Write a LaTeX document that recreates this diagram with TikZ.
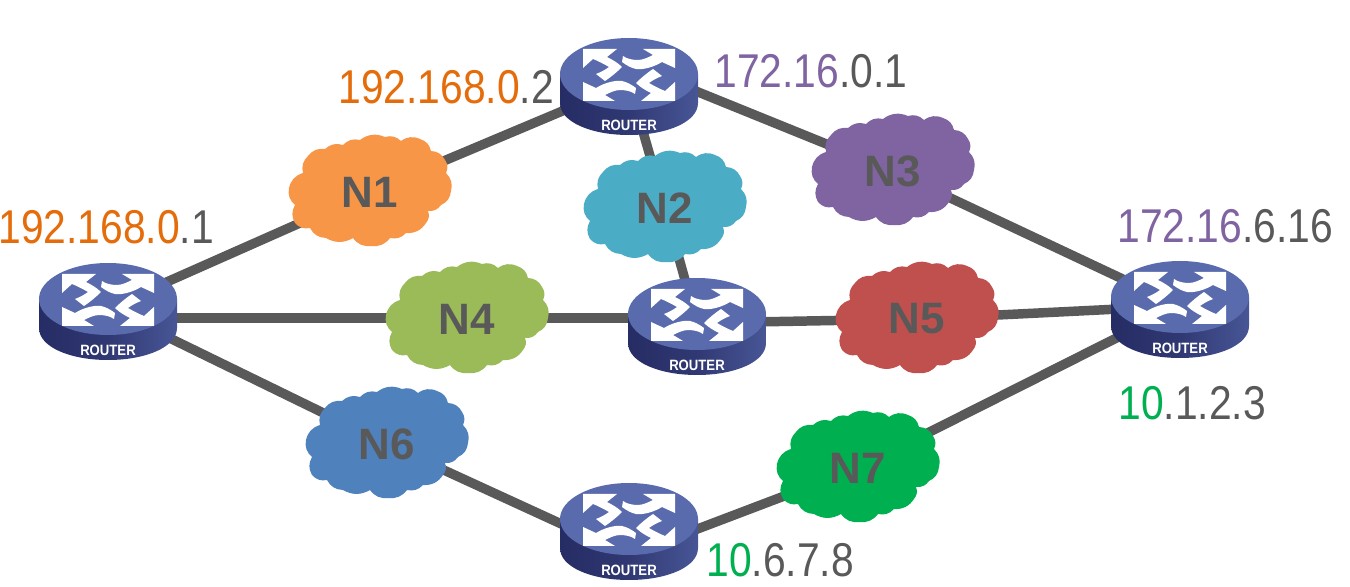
\documentclass[tikz,border=0pt]{standalone}
\usepackage{fontspec}
\setmainfont{Liberation Sans}
\newfontfamily\iplabelfont[FakeStretch=0.86]{Liberation Sans}
\newfontfamily\routerfont[FakeStretch=0.88]{Liberation Sans}
\usetikzlibrary{shapes.geometric, backgrounds}
\definecolor{linegrey}{RGB}{89,89,89}
\definecolor{iporange}{RGB}{228,108,10}
\definecolor{ippurple}{RGB}{128,100,162}
\definecolor{ipgreen}{RGB}{0,176,80}
\definecolor{routertop}{RGB}{90,107,173}
\definecolor{routerdark}{RGB}{38,44,100}
\definecolor{routermid}{RGB}{72,86,150}
\definecolor{cloudA}{RGB}{247,150,70}
\definecolor{cloudB}{RGB}{75,172,198}
\definecolor{cloudC}{RGB}{128,100,162}
\definecolor{cloudD}{RGB}{155,187,89}
\definecolor{cloudE}{RGB}{192,80,77}
\definecolor{cloudF}{RGB}{79,129,189}
\definecolor{cloudG}{RGB}{0,176,80}
\tikzset{
  netname/.style={inner sep=0pt, text=linegrey, font=\fontsize{25}{25}\selectfont\bfseries},
  routerport/.style={ellipse, minimum width=2.7cm, minimum height=1.9cm, inner sep=0pt},
  iplabel/.style={anchor=west, inner sep=0pt, text=linegrey, font=\fontsize{27}{27}\iplabelfont},
  wire/.style={color=linegrey, line width=5.4pt},
  blob/.pic={
    \path[pic actions, bend left=30] (-81,-4) to (-67,-19) to (-62,-36) to (-45,-43) to (-27,-47)
      to (-10,-52) to (15,-55) to (31,-51) to (50,-53) to (61,-41) to (75,-32) to (76,-19)
      to (81,-1) to (71,13) to (58,19) to (56,31) to (36,41) to (20,46) to (1,54) to (-17,46)
      to (-44,46) to (-60,36) to (-75,31) to (-75,13) to (-81,-4) -- cycle;
  },
  router/.pic={
    \shade[left color=routerdark, right color=routermid, middle color=routerdark!70!routermid]
      (-69,-1) -- (-69,28) .. controls (-69,47) and (-38,60) .. (0,60)
      .. controls (38,60) and (69,47) .. (69,28) -- (69,-1) -- cycle;
    \fill[routertop] (-69,-1) .. controls (-69,-21) and (-38,-37) .. (0,-37)
      .. controls (38,-37) and (69,-21) .. (69,-1) .. controls (69,19) and (38,35) .. (0,35)
      .. controls (-38,35) and (-69,19) .. (-69,-1) -- cycle;
    \foreach \rot in {0,180}{
      \begin{scope}[rotate=\rot]
        %corner arrows
        \fill[white] (-46,-26) -- (-12,-26) -- (-22,-18) .. controls (-16,-15) and (-11,-12) .. (-7,-8)
          .. controls (-12,-3) and (-18,2) .. (-24,6) -- (-33,-1) .. controls (-28,-3) and (-24,-5) .. (-20,-8)
          .. controls (-25,-11) and (-31,-14) .. (-36,-16) -- (-46,-7) -- cycle;
        \fill[white] (46,-26) -- (46,-7) -- (33,-13) .. controls (25,-8) and (14,-5) .. (7,-6)
          .. controls (2,-7) and (-3,-10) .. (-7,-13) -- (-6,-19) .. controls (-2,-16) and (4,-15) .. (9,-15)
          .. controls (14,-15) and (20,-18) .. (24,-20) -- (14,-26) -- cycle;
      \end{scope}
    }
    \node[text=white, font=\fontsize{8.5}{9}\routerfont\bfseries] (tag) at (0,50) {ROUTER};
  }
}

\begin{document}
\begin{tikzpicture}[x=0.02cm,y=-0.02cm]
\useasboundingbox (0,0) rectangle (1350,587);

%routers
\foreach \name/\x/\y in {RA/108/300, RB/629/75, RC/697/315, RD/1180/298, RE/629/520}{
  \pic (\name pic) at (\x,\y) {router};
  \node[routerport] (\name) at (\x,\y+8) {};
}
%clouds
\foreach \name/\x/\y/\col/\txt in {NA/370/192/cloudA/N1, NB/665/208/cloudB/N2, NC/893/171/cloudC/N3, ND/467/319/cloudD/N4,
    NE/917/319/cloudE/N5, NF/387/444/cloudF/N6, NG/858/468/cloudG/N7}{
  \pic[fill=\col] (\name pic) at (\x,\y) {blob};
  \node[netname] (\name) at (\x,\y) {\txt};
}

\coordinate (RAport) at (108,318);
\coordinate (RBport) at (629,64);
\coordinate (RCport) at (697,318);
\coordinate (REport) at (629,555);
\begin{pgfonlayer}{background}
  \foreach \a/\b in {RA/NA, NA/RB, RB/NB, NB/RC, RBport/NC, NC/RD, RAport/RCport, RC/NE, NE/RD, RA/NF, NF/REport, REport/NG, NG/RD}{
    \draw[wire] (\a.center) -- (\b.center);
  }
\end{pgfonlayer}

%addresses
\node[iplabel] (ipA) at (338,87) {\textcolor{iporange}{192.168.0}.2};
\node[iplabel] (ipB) at (-2,227) {\textcolor{iporange}{192.168.0}.1};
\node[iplabel] (ipC) at (714,71) {\textcolor{ippurple}{172.16}.0.1};
\node[iplabel] (ipD) at (1117,226) {\textcolor{ippurple}{172.16}.6.16};
\node[iplabel] (ipE) at (1118,403) {\textcolor{ipgreen}{10}.1.2.3};
\node[iplabel] (ipF) at (706,560) {\textcolor{ipgreen}{10}.6.7.8};
\end{tikzpicture}
\end{document}
